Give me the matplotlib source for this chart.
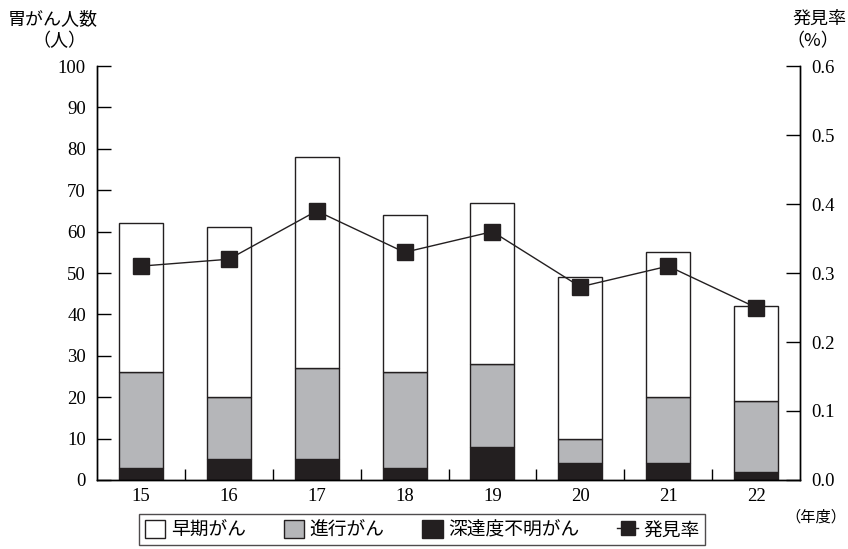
import matplotlib.pyplot as plt
import numpy as np
from matplotlib.lines import Line2D
from matplotlib.patches import Patch

plt.rcParams['font.family'] = ['Liberation Serif', 'Noto Sans CJK JP']

years = ['15', '16', '17', '18', '19', '20', '21', '22']
unknown = [3, 5, 5, 3, 8, 4, 4, 2]        # 深達度不明がん
advanced = [23, 15, 22, 23, 20, 6, 16, 17]  # 進行がん
early = [36, 41, 51, 38, 39, 39, 35, 23]    # 早期がん
rate = [0.31, 0.32, 0.39, 0.33, 0.36, 0.28, 0.31, 0.25]  # 発見率

x = np.arange(len(years))
fig = plt.figure(figsize=(8.48, 5.49), dpi=100)
ax = fig.add_axes([0.1144, 0.1257, 0.829, 0.754])

w = 0.5
bottom2 = np.array(unknown) + np.array(advanced)
ax.bar(x, unknown, w, color='#231f20', edgecolor='#231f20', lw=1)
ax.bar(x, advanced, w, bottom=unknown, color='#b5b6b9', edgecolor='#231f20', lw=1)
ax.bar(x, early, w, bottom=bottom2, color='white', edgecolor='#231f20', lw=1)

ax.set_xlim(-0.5, 7.5)
ax.set_ylim(0, 100)
ax.set_yticks(range(0, 101, 10))
ax.set_xticks(x)
ax.set_xticklabels(years)
ax.set_xticks(np.arange(0.5, 7, 1), minor=True)
ax.tick_params(axis='x', which='major', length=0, labelsize=13.5, pad=6)
ax.tick_params(axis='x', which='minor', direction='in', length=8, width=1)
ax.tick_params(axis='y', direction='in', length=10, width=1, labelsize=13.5, pad=8)
ax.spines['top'].set_visible(False)
for s in ax.spines.values():
    s.set_linewidth(1)

ax2 = ax.twinx()
ax2.plot(x, rate, color='#231f20', lw=1, marker='s', markersize=11)
ax2.set_ylim(0, 0.6)
ax2.set_yticks(np.arange(0, 0.61, 0.1))
ax2.set_yticklabels([f'{v:.1f}' for v in np.arange(0, 0.61, 0.1)])
ax2.tick_params(axis='y', direction='in', length=10, width=1, labelsize=13.5, pad=8)
ax2.spines['top'].set_visible(False)
for s in ax2.spines.values():
    s.set_linewidth(1)

fig.text(0.062, 0.965, '胃がん人数', fontsize=13, ha='center', va='center')
fig.text(0.070, 0.925, '（人）', fontsize=13, ha='center', va='center')
fig.text(0.966, 0.965, '発見率', fontsize=13, ha='center', va='center')
fig.text(0.958, 0.925, '（%）', fontsize=13, ha='center', va='center',
         family=['Noto Sans CJK JP'])
fig.text(0.962, 0.058, '（年度）', fontsize=11, ha='center', va='center')

handles = [
    Patch(facecolor='white', edgecolor='#231f20', label='早期がん'),
    Patch(facecolor='#b5b6b9', edgecolor='#231f20', label='進行がん'),
    Patch(facecolor='#231f20', edgecolor='#231f20', label='深達度不明がん'),
    Line2D([], [], color='#231f20', lw=1, marker='s', markersize=10, label='発見率'),
]
leg = fig.legend(handles=handles, loc='center', bbox_to_anchor=(0.498, 0.035),
                 ncol=4, fontsize=13.5, frameon=True, fancybox=False,
                 edgecolor='#231f20', handlelength=1.1, handleheight=1.1,
                 handletextpad=0.3, columnspacing=2.0, borderpad=0.3)
leg.get_frame().set_linewidth(1)

fig.savefig('out.png', dpi=100)
